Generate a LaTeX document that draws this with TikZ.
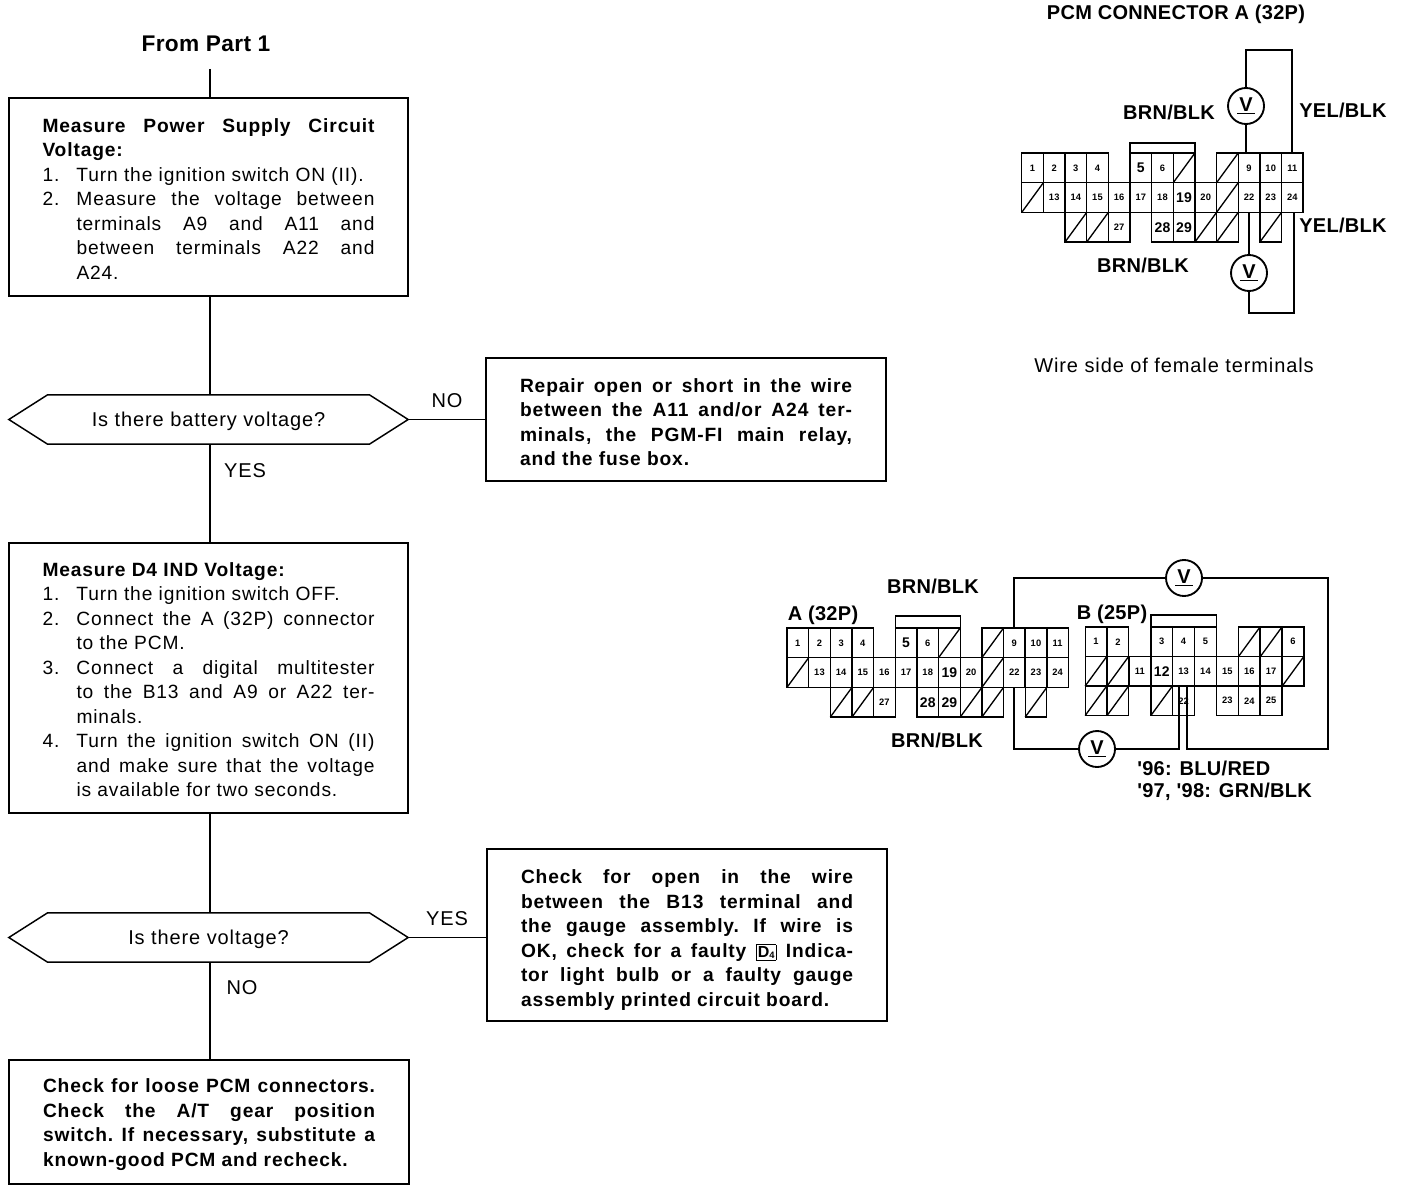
\documentclass[tikz,border=0pt]{standalone}
\usepackage{fontspec}
\setmainfont{Liberation Sans}[LetterSpace=4.5]
\newfontfamily\tightf{Liberation Sans}[LetterSpace=1.5]
\usetikzlibrary{shapes.symbols}
\newcommand\Lg[1]{{\fontsize{10.5}{10.5}\selectfont #1}}
\newcommand\topgap[1]{\noindent\rule{0pt}{#1}}
\newcommand\numitem[2]{\par\noindent\hangindent=25.5pt\hangafter=1\hbox to 25.5pt{#1.\hfil}#2\par}
\newcommand\pinset[7]{%
  \foreach \c/\r/\t in {#6}
    \node[pincell] (#1\c-\r) at ({#2+(\c+.5)*#4},{#3+(\r+.5)*#5}) {\t};
  \foreach \c/\r in {#7}{
    \node[pincell] (#1\c-\r) at ({#2+(\c+.5)*#4},{#3+(\r+.5)*#5}) {};
    \draw[celline] (#1\c-\r.south west) -- (#1\c-\r.north east);
  }}
\newcommand\connA[3]{%
  \pinset{#1}{#2}{#3}{21.65}{29.7}
   {0/0/1,1/0/2,2/0/3,3/0/4,5/0/\Lg{5},6/0/6,10/0/9,11/0/10,12/0/11,
    1/1/13,2/1/14,3/1/15,4/1/16,5/1/17,6/1/18,7/1/\Lg{19},8/1/20,10/1/22,11/1/23,12/1/24,
    4/2/27,6/2/\Lg{28},7/2/\Lg{29}}
   {7/0,9/0,0/1,9/1,2/2,3/2,8/2,9/2,11/2}}
\tikzset{
  box/.style={draw,line width=1.3pt,outer sep=0pt,inner sep=0pt,minimum width=299.5pt,text width=249pt,align=justify,
    font=\fontsize{14.4}{18.4}\selectfont\frenchspacing},
  dec/.style={draw,line width=1.1pt,outer sep=0pt,inner sep=0pt,signal,signal to=west and east,signal from=nowhere,
    signal pointer angle=65,minimum width=299.5pt,minimum height=37pt,text height=12pt,text depth=2pt,
    font=\fontsize{15}{16}\selectfont},
  flow/.style={line width=1.1pt},
  lab/.style={inner sep=0pt,font=\fontsize{15}{16}\selectfont},
  wirelab/.style={inner sep=0pt,font=\fontsize{15}{16}\tightf\bfseries\selectfont},
  pincell/.style={draw,line width=1pt,outer sep=0pt,inner sep=0pt,minimum width=16.2pt,minimum height=22.2pt,
    font=\fontsize{7}{7}\tightf\bfseries\selectfont},
  celline/.style={line width=1pt},
  wire/.style={line width=1.6pt},
  meter/.style={circle,draw,line width=1.4pt,fill=white,inner sep=0pt,minimum size=27pt,
    font=\fontsize{15}{15}\tightf\bfseries\selectfont},
}
\newcommand\Vm{\shortstack{V\\[-2pt]\rule{13pt}{1.1pt}}}
\begin{document}
\begin{tikzpicture}[x=0.75pt,y=-0.75pt]
\useasboundingbox (0,0) rectangle (1408,1188);
% flow chart
\node[inner sep=0pt,font=\fontsize{17}{18}\tightf\bfseries\selectfont] (from) at (206,44) {From Part 1};
\coordinate (start) at (210,69);
\node[box,minimum height=148.5pt] (b1) at (208.5,197) {\topgap{13.2pt}%
  {\bfseries Measure Power Supply Circuit\break Voltage:\par}
  \numitem{1}{Turn the ignition switch ON (II).}
  \numitem{2}{Measure the voltage between\break terminals A9 and A11 and\break between terminals A22 and\break A24.}};
\node[dec] (d1) at (208.5,419.5) {Is there battery voltage?};
\node[box,minimum height=92.5pt] (b2) at (686,419.5) {\topgap{14.2pt}\bfseries
  Repair open or short in the wire\break between the A11 and/or A24 ter-\break minals, the PGM-FI main relay,\break and the fuse box.};
\node[box,minimum height=202.5pt] (b3) at (208.5,678) {\topgap{13pt}%
  {\bfseries Measure D4 IND Voltage:\par}
  \numitem{1}{Turn the ignition switch OFF.}
  \numitem{2}{Connect the A (32P) connector\break to the PCM.}
  \numitem{3}{Connect a digital multitester\break to the B13 and A9 or A22 ter-\break minals.}
  \numitem{4}{Turn the ignition switch ON (II)\break and make sure that the voltage\break is available for two seconds.}};
\node[dec] (d2) at (208.5,937.5) {Is there voltage?};
\node[box,minimum height=129pt] (b4) at (687,935) {\topgap{18pt}\bfseries
  Check for open in the wire\break between the B13 terminal and\break the gauge assembly. If wire is\break
  OK, check for a faulty \fboxsep=1pt\fbox{\fontsize{12}{12}\selectfont D\raisebox{-1pt}{\fontsize{7}{7}\selectfont 4}} Indica-\break
  tor light bulb or a faulty gauge\break assembly printed circuit board.};
\node[box,minimum height=93pt] (b5) at (209,1122) {\topgap{14.2pt}\bfseries
  Check for loose PCM connectors.\break Check the A/T gear position\break switch. If necessary, substitute a\break known-good PCM and recheck.};
\node[lab] (no1) at (447,401) {NO};
\node[lab] (yes1) at (245,471) {YES};
\node[lab] (yes2) at (447,919) {YES};
\node[lab] (no2) at (242,988) {NO};
\draw[flow] (start) -- (start |- b1.north);
\draw[flow] (start |- b1.south) -- (start |- d1.north);
\draw[flow] (start |- d1.south) -- (start |- b3.north);
\draw[flow] (start |- b3.south) -- (start |- d2.north);
\draw[flow] (start |- d2.south) -- (start |- b5.north);
\draw[flow] (d1.east) -- (d1.east -| b2.west);
\draw[flow] (d2.east) -- (d2.east -| b4.west);
% upper connector
\node[wirelab] (title) at (1176,14) {PCM CONNECTOR A (32P)};
\connA{t}{1021.7}{153}
\node[meter] (v1) at (1246,106) {\Vm};
\node[meter] (v2) at (1249,273) {\Vm};
\coordinate (t1) at (1246,50);
\coordinate (t3) at (1249,313);
\coordinate (tb) at (1160,143);
\draw[celline] (t5-0.north west) |- (tb) -| (t7-0.north east);
\draw[wire] (v1 |- t10-0.north) -- (v1);
\draw[wire] (v1) -- (t1) -| (t12-0.north);
\draw[wire] (v2 |- t10-1.south) -- (v2);
\draw[wire] (v2) -- (t3) -| ([xshift=1.5pt]t12-1.south);
\node[wirelab] (l1) at (1169,112) {BRN/BLK};
\node[wirelab] (l2) at (1343,110) {YEL/BLK};
\node[wirelab] (l3) at (1343,225) {YEL/BLK};
\node[wirelab] (l4) at (1143,265) {BRN/BLK};
\node[lab] (l5) at (1174,365) {Wire side of female terminals};
% lower connectors
\connA{a}{787}{628}
\pinset{c}{1085}{627}{21.9}{29.5}
  {0/0/1,1/0/2,3/0/3,4/0/4,5/0/5,9/0/6,
   2/1/11,3/1/\Lg{12},4/1/13,5/1/14,6/1/15,7/1/16,8/1/17,
   4/2/22,6/2/23,7/2/24,8/2/25}
  {7/0,8/0,0/1,1/1,9/1,0/2,1/2,3/2}
\coordinate (ab) at (927,616);
\draw[celline] (a5-0.north west) |- (ab) -| (a7-0.north east);
\coordinate (cb) at (1183,615);
\draw[celline] (c3-0.north west) |- (cb) -| (c5-0.north east);
\node[meter] (v3) at (1184,578) {\Vm};
\node[meter] (v4) at (1097,749) {\Vm};
\coordinate (r3) at (1328,749);
\coordinate (w1) at ([xshift=2.5pt]c4-1.south);
\coordinate (w2) at ([xshift=-3.5pt]c4-1.south);
\draw[wire] (a10-0.north) |- (v3);
\draw[wire] (v3) -| (r3) -| (w1);
\draw[wire] (a10-1.south) |- (v4);
\draw[wire] (v4) -| (w2);
\node[wirelab] (m1) at (933,586) {BRN/BLK};
\node[wirelab] (m2) at (823,615) {A (32P)};
\node[wirelab] (m3) at (937,740) {BRN/BLK};
\node[wirelab] (m4) at (1112,614) {B (25P)};
\node[wirelab,anchor=west] (m5) at (1137,768) {'96: BLU/RED};
\node[wirelab,anchor=west] (m6) at (1137,792) {'97, '98: GRN/BLK};
\end{tikzpicture}
\end{document}
